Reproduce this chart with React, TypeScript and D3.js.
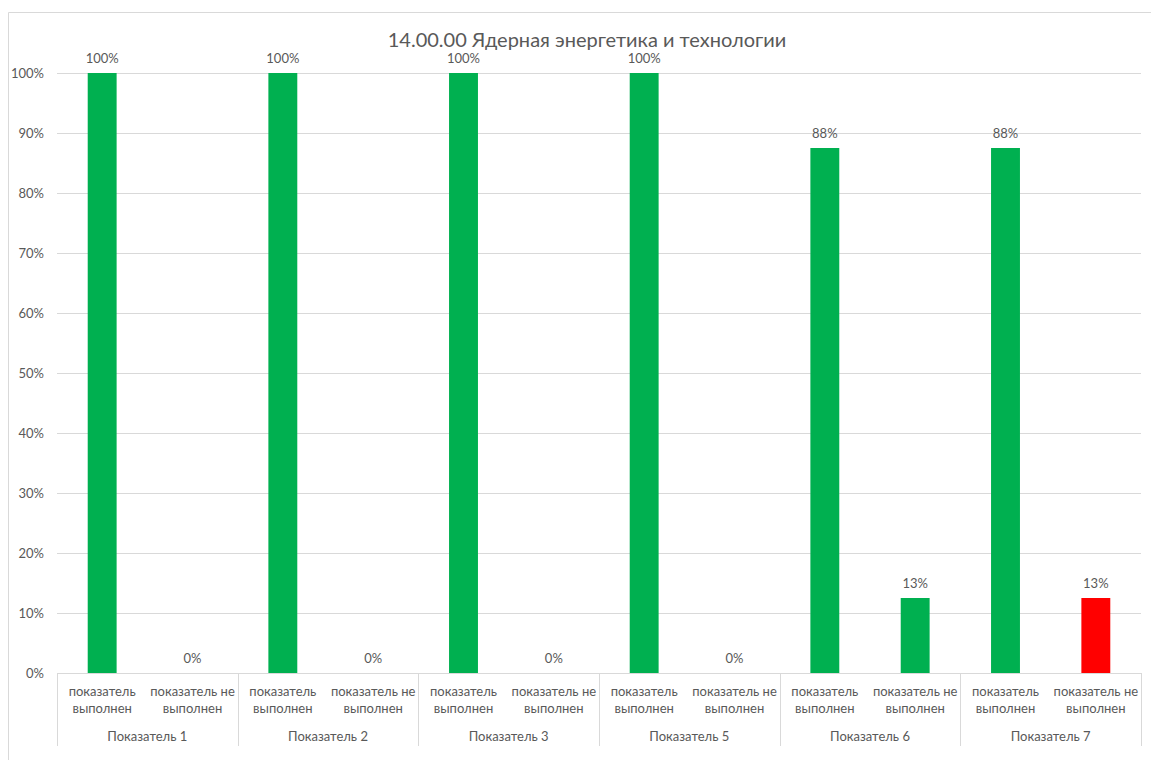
import React from "react";
import * as d3 from "d3";

const title = "14.00.00 Ядерная энергетика и технологии";
const groups = ["Показатель 1", "Показатель 2", "Показатель 3", "Показатель 5", "Показатель 6", "Показатель 7"];
const subCats = ["done", "notDone"];
const subLabels = [["показатель", "выполнен"], ["показатель не", "выполнен"]];
const doneValues = [100, 100, 100, 100, 87.5, 87.5];
const notDoneValues = [0, 0, 0, 0, 12.5, 12.5];
const notDoneColors = ["#00B050", "#00B050", "#00B050", "#00B050", "#00B050", "#FF0000"];
const yTicks = [0, 10, 20, 30, 40, 50, 60, 70, 80, 90, 100];

const W = 1151, H = 760;
const left = 57, right = 1141, top = 73, bottom = 673;
const font = "Lato, 'Open Sans', sans-serif";
const textColor = "#595959";

export default function App() {
  const x0 = d3.scaleBand().domain(groups).range([left, right]).padding(0);
  const x1 = d3.scaleBand().domain(subCats).range([0, x0.bandwidth()]).paddingInner(0.68).paddingOuter(0.34);
  const y = d3.scaleLinear().domain([0, 100]).range([bottom, top]);
  const fmt = (v: number) => `${Math.round(v)}%`;

  const bars: { g: string; s: string; v: number; c: string }[] = [];
  groups.forEach((g, i) => {
    bars.push({ g, s: "done", v: doneValues[i], c: "#00B050" });
    bars.push({ g, s: "notDone", v: notDoneValues[i], c: notDoneColors[i] });
  });

  return (
    <div style={{ position: "absolute", left: 0, top: 0 }}>
      <svg width={W} height={H} style={{ display: "block" }}>
        <rect x={0} y={0} width={W} height={H} fill="#fff" />
        <line x1={8.5} x2={W} y1={12.5} y2={12.5} stroke="#D9D9D9" />
        <line x1={8.5} x2={8.5} y1={12.5} y2={H} stroke="#D9D9D9" />
        <text x={587} y={47} textAnchor="middle" fontFamily={font} fontSize={20} fill={textColor}>
          {title}
        </text>
        {yTicks.map((t) => (
          <g key={t}>
            {t > 0 && (
              <line x1={left} x2={right} y1={Math.round(y(t)) + 0.5} y2={Math.round(y(t)) + 0.5} stroke="#D9D9D9" />
            )}
            <text x={44} y={y(t) + 4.5} textAnchor="end" fontFamily={font} fontSize={13} fill={textColor}>
              {`${t}%`}
            </text>
          </g>
        ))}
        {bars.map((b, i) => {
          const bx = (x0(b.g) as number) + (x1(b.s) as number);
          const bw = x1.bandwidth();
          return (
            <g key={i}>
              {b.v > 0 && <rect x={bx} y={y(b.v)} width={bw} height={bottom - y(b.v)} fill={b.c} />}
              <text x={bx + bw / 2} y={y(b.v) - 10} textAnchor="middle" fontFamily={font} fontSize={13} fill={textColor}>
                {fmt(b.v)}
              </text>
            </g>
          );
        })}
        <line x1={left} x2={right} y1={bottom + 0.5} y2={bottom + 0.5} stroke="#D9D9D9" />
        {[...groups.map((g) => x0(g) as number), right].map((gx, i) => (
          <line key={i} x1={Math.round(gx) + 0.5} x2={Math.round(gx) + 0.5} y1={bottom} y2={746} stroke="#D9D9D9" />
        ))}
        {groups.map((g) => (
          <g key={g}>
            {subCats.map((s, j) => {
              const cx = (x0(g) as number) + (x1(s) as number) + x1.bandwidth() / 2;
              return (
                <text key={s} textAnchor="middle" fontFamily={font} fontSize={13} fill={textColor}>
                  <tspan x={cx} y={696}>{subLabels[j][0]}</tspan>
                  <tspan x={cx} y={713}>{subLabels[j][1]}</tspan>
                </text>
              );
            })}
            <text x={(x0(g) as number) + x0.bandwidth() / 2} y={741} textAnchor="middle" fontFamily={font} fontSize={13} fill={textColor}>
              {g}
            </text>
          </g>
        ))}
      </svg>
    </div>
  );
}
